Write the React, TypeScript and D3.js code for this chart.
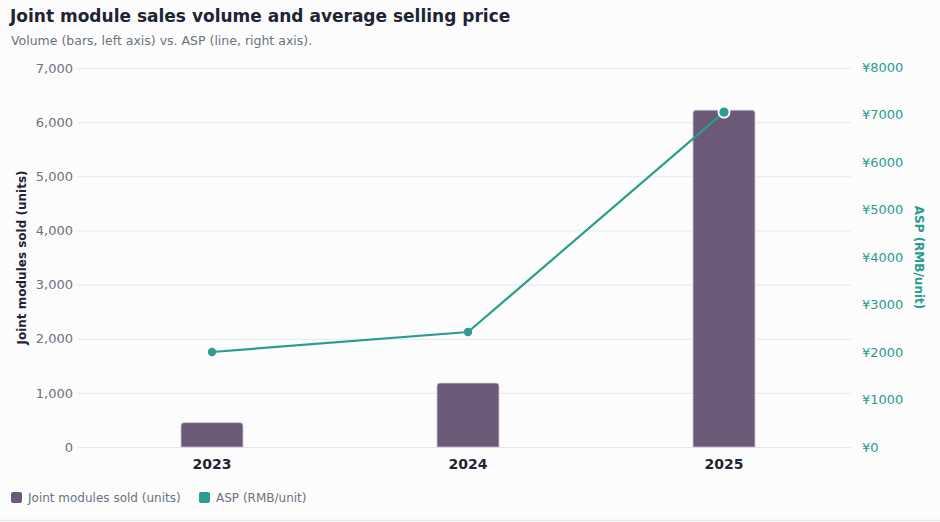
import { axisBottom, axisLeft, axisRight, format, line, scaleBand, scaleLinear, select } from 'd3'
import { useEffect, useRef } from 'react'

const years = ['2023', '2024', '2025']
const unitsSold = [450, 1180, 6220]
const aspRmb = [2000, 2420, 7050]
const leftTicks = [0, 1000, 2000, 3000, 4000, 5000, 6000, 7000]
const rightTicks = [0, 1000, 2000, 3000, 4000, 5000, 6000, 7000, 8000]

const W = 940
const H = 522
const margin = { top: 68, right: 88, bottom: 75, left: 84 }
const barColor = '#6b5977'
const lineColor = '#2a9d8f'
const font = '"DejaVu Sans", sans-serif'

export default function App() {
    const ref = useRef(null)

    useEffect(() => {
        const svg = select(ref.current)
        svg.selectAll('*').remove()

        const x = scaleBand()
            .domain(years)
            .range([margin.left, W - margin.right])
            .padding(0)
        const yL = scaleLinear().domain([0, 7000]).range([H - margin.bottom, margin.top])
        const yR = scaleLinear().domain([0, 8000]).range([H - margin.bottom, margin.top - 1])

        svg.append('rect').attr('width', W).attr('height', H).attr('fill', '#fcfcfd')

        svg.append('text')
            .attr('x', 10).attr('y', 22)
            .attr('font-size', 17).attr('font-weight', 'bold')
            .attr('fill', '#1f2433')
            .text('Joint module sales volume and average selling price')

        svg.append('text')
            .attr('x', 11).attr('y', 45)
            .attr('font-size', 12.5)
            .attr('fill', '#6b7280')
            .text('Volume (bars, left axis) vs. ASP (line, right axis).')

        // left axis + grid
        const gl = svg.append('g')
            .attr('transform', `translate(77,0)`)
            .call(axisLeft(yL).tickValues(leftTicks).tickFormat(format(',')).tickSize(-(851 - 77)).tickPadding(4))
        gl.select('.domain').remove()
        gl.selectAll('line').attr('stroke', '#e6e7eb')
        gl.selectAll('text').attr('fill', '#6b7280').attr('font-size', 13).attr('font-family', font)

        // right axis
        const gr = svg.append('g')
            .attr('transform', `translate(852,0)`)
            .call(axisRight(yR).tickValues(rightTicks).tickFormat(d => `¥${d}`).tickSize(0).tickPadding(10))
        gr.select('.domain').remove()
        gr.selectAll('text').attr('fill', lineColor).attr('font-size', 13).attr('font-family', font)

        // x axis
        const gx = svg.append('g')
            .attr('transform', `translate(0,${H - margin.bottom})`)
            .call(axisBottom(x).tickSize(0).tickPadding(12))
        gx.select('.domain').remove()
        gx.selectAll('text').attr('fill', '#1f2433').attr('font-size', 14).attr('font-weight', 'bold').attr('font-family', font)

        // bars
        const bw = x.bandwidth() * 0.242
        const r = 3
        svg.append('g').selectAll('path')
            .data(years)
            .join('path')
            .attr('d', (d, i) => {
                const x0 = x(d) + (x.bandwidth() - bw) / 2
                const x1 = x0 + bw
                const y0 = yL(unitsSold[i])
                const yb = yL(0)
                return `M${x0},${yb}V${y0 + r}Q${x0},${y0} ${x0 + r},${y0}H${x1 - r}Q${x1},${y0} ${x1},${y0 + r}V${yb}Z`
            })
            .attr('fill', barColor)
            .attr('stroke', '#c9bfd2')
            .attr('stroke-width', 0.8)

        // ASP line
        const pts = years.map((d, i) => [x(d) + x.bandwidth() / 2, yR(aspRmb[i])])
        svg.append('path')
            .datum(pts)
            .attr('fill', 'none')
            .attr('stroke', lineColor)
            .attr('stroke-width', 2.2)
            .attr('d', line())

        svg.append('g').selectAll('circle')
            .data(pts)
            .join('circle')
            .attr('cx', d => d[0])
            .attr('cy', d => d[1])
            .attr('r', (d, i) => i === pts.length - 1 ? 5.5 : 4.2)
            .attr('fill', lineColor)
            .attr('stroke', (d, i) => i === pts.length - 1 ? '#fff' : 'none')
            .attr('stroke-width', 1.8)

        // axis titles
        const midY = (yL(0) + yL(7000)) / 2
        svg.append('text')
            .attr('transform', `translate(26,${midY}) rotate(-90)`)
            .attr('text-anchor', 'middle')
            .attr('font-size', 12).attr('font-weight', 'bold')
            .attr('fill', '#1f2433')
            .text('Joint modules sold (units)')
        svg.append('text')
            .attr('transform', `translate(915,${midY}) rotate(90)`)
            .attr('text-anchor', 'middle')
            .attr('font-size', 12).attr('font-weight', 'bold')
            .attr('fill', lineColor)
            .text('ASP (RMB/unit)')

        // legend
        const legend = [
            { label: 'Joint modules sold (units)', color: barColor, x: 11 },
            { label: 'ASP (RMB/unit)', color: lineColor, x: 199 }
        ]
        const lg = svg.append('g').selectAll('g').data(legend).join('g')
            .attr('transform', d => `translate(${d.x},492)`)
        lg.append('rect').attr('width', 11).attr('height', 11).attr('rx', 2).attr('fill', d => d.color)
        lg.append('text').attr('x', 17).attr('y', 10).attr('font-size', 12).attr('fill', '#6b7280').text(d => d.label)

        svg.append('line')
            .attr('x1', 0).attr('x2', W).attr('y1', 520.5).attr('y2', 520.5)
            .attr('stroke', '#e5e7eb').attr('stroke-width', 1.5)
    }, [])

    return (
        <>
            <style>{'body{margin:0}'}</style>
            <svg ref={ref} width={W} height={H} style={{ display: 'block', fontFamily: font }} />
        </>
    )
}
